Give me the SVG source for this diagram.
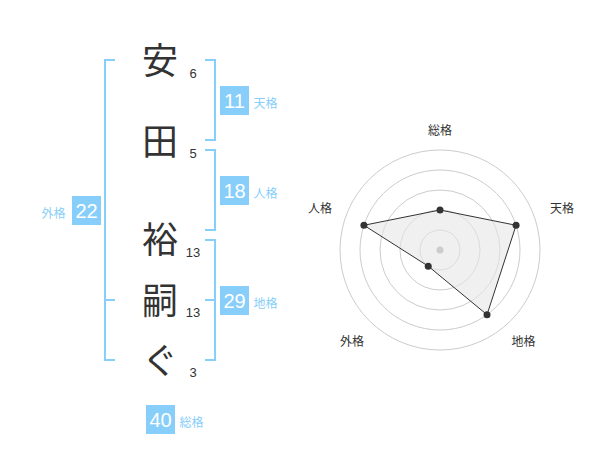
<svg xmlns="http://www.w3.org/2000/svg" width="600" height="470" viewBox="0 0 600 470">
<style>
.kanji{font-family:"Noto Sans CJK JP","Noto Sans CJK SC",sans-serif;font-size:36px;fill:#333;text-anchor:middle}
.stroke{font-family:"Liberation Sans",Arial,sans-serif;font-size:13px;fill:#333;text-anchor:middle}
.box{fill:#87cefa}
.boxnum{font-family:"Liberation Sans",Arial,sans-serif;font-size:20px;fill:#fff;text-anchor:middle}
.lbl{font-family:"Noto Sans CJK JP",sans-serif;font-size:12px;fill:#87cefa;text-anchor:middle}
.br{fill:none;stroke:#87cefa;stroke-width:2}
.ring{fill:none;stroke:#ccc;stroke-width:1}
.rl{font-family:"Noto Sans CJK JP",sans-serif;font-size:12px;fill:#333;text-anchor:middle}
.pt{fill:#333}
</style>
<rect width="600" height="470" fill="#fff"/>
<g id="connectors">
<path class="br" d="M115,60 H105 V360 H115 M105,300 H115"/>
<path class="br" d="M205,60 H215 V140 H205"/>
<path class="br" d="M205,150 H215 V230 H205"/>
<path class="br" d="M205,240 H215 V360 H205 M205,300 H215"/>
</g>
<g id="name">
<g id="char1"><text class="kanji" x="160" y="73.7">安</text><text class="stroke" x="193" y="77.7">6</text></g>
<g id="char2"><text class="kanji" x="160" y="155.4">田</text><text class="stroke" x="193" y="157.7">5</text></g>
<g id="char3"><text class="kanji" x="160" y="252.7">裕</text><text class="stroke" x="193" y="257.3">13</text></g>
<g id="char4"><text class="kanji" x="160" y="313.7">嗣</text><text class="stroke" x="193" y="316.7">13</text></g>
<g id="char5"><text class="kanji" x="160" y="373.7">ぐ</text><text class="stroke" x="193" y="376.7">3</text></g>
</g>
<g id="tenkaku"><rect class="box" x="220" y="86" width="29" height="29"/><text class="boxnum" x="234.5" y="108.3">11</text><text class="lbl" x="265.5" y="108.3">天格</text></g>
<g id="jinkaku"><rect class="box" x="220" y="176" width="29" height="29"/><text class="boxnum" x="234.5" y="198.3">18</text><text class="lbl" x="265.5" y="198.3">人格</text></g>
<g id="chikaku"><rect class="box" x="220" y="286" width="29" height="29"/><text class="boxnum" x="234.5" y="308.3">29</text><text class="lbl" x="265.5" y="308.3">地格</text></g>
<g id="gaikaku"><rect class="box" x="72" y="196" width="29" height="29"/><text class="boxnum" x="86.5" y="218.3">22</text><text class="lbl" x="53.5" y="218.3">外格</text></g>
<g id="soukaku"><rect class="box" x="146" y="405" width="29" height="29"/><text class="boxnum" x="160.5" y="427.3">40</text><text class="lbl" x="191.5" y="427.3">総格</text></g>
<g id="radar">
<circle class="ring" cx="440" cy="250" r="20"/>
<circle class="ring" cx="440" cy="250" r="40"/>
<circle class="ring" cx="440" cy="250" r="60"/>
<circle class="ring" cx="440" cy="250" r="80"/>
<circle class="ring" cx="440" cy="250" r="100"/>
<polygon points="440,210 516.08,225.28 487.02,314.72 428.24,266.18 363.92,225.28" fill="#e6e6e6" fill-opacity="0.6" stroke="#333" stroke-width="1"/>
<circle cx="440" cy="250" r="3.5" fill="#ccc"/>
<circle class="pt" cx="440" cy="210" r="3.5"/>
<circle class="pt" cx="516.08" cy="225.28" r="3.5"/>
<circle class="pt" cx="487.02" cy="314.72" r="3.5"/>
<circle class="pt" cx="428.24" cy="266.18" r="3.5"/>
<circle class="pt" cx="363.92" cy="225.28" r="3.5"/>
<text class="rl" x="440" y="134.5">総格</text>
<text class="rl" x="562" y="212.5">天格</text>
<text class="rl" x="320" y="212.5">人格</text>
<text class="rl" x="352" y="346">外格</text>
<text class="rl" x="523.5" y="346">地格</text>
</g>
</svg>
